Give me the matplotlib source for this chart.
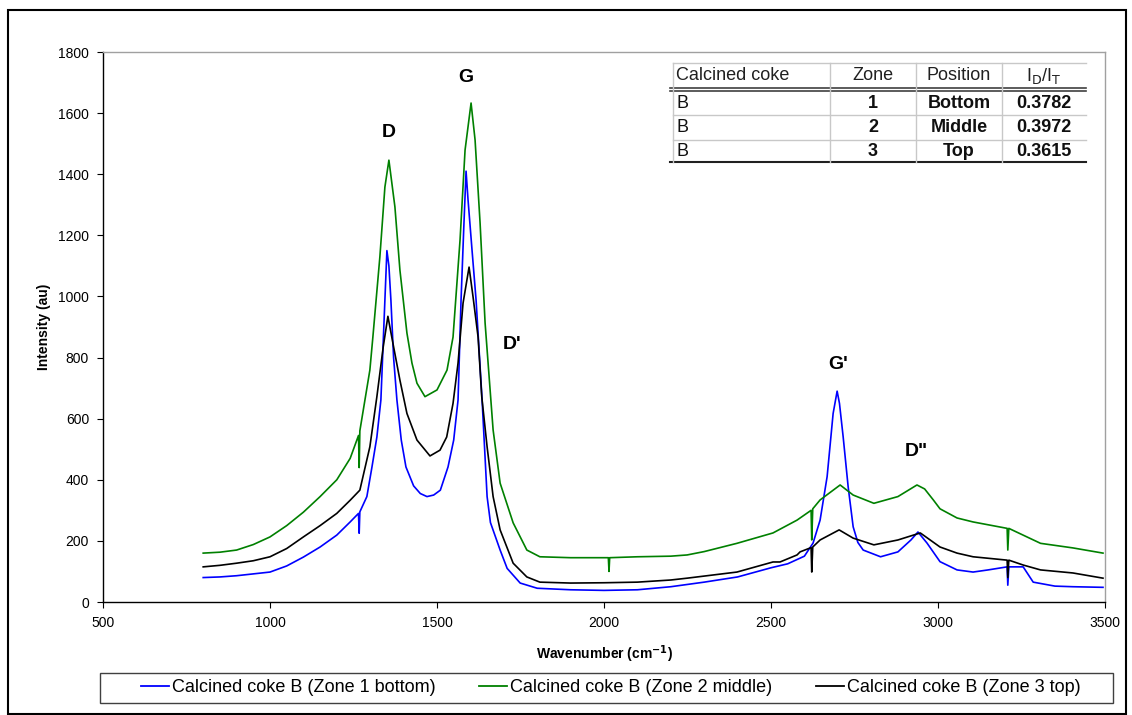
import matplotlib
matplotlib.use("Agg")
import matplotlib.pyplot as plt
from matplotlib.lines import Line2D
from matplotlib.patches import Rectangle

plt.rcParams['font.family'] = ['Liberation Sans', 'DejaVu Sans']

# Raman spectra of calcined coke B, three zones (wavenumber cm-1, intensity au)
zone1_wn = [800, 850, 900, 950, 1000, 1050, 1100, 1150, 1200, 1240, 1265, 1267, 1269,
            1290, 1305, 1320, 1332, 1344, 1350, 1356, 1362, 1370, 1380, 1393, 1407,
            1430, 1450, 1470, 1490, 1510, 1533, 1550, 1563, 1572, 1580, 1587, 1593,
            1605, 1617, 1635, 1650, 1660, 1689, 1710, 1749, 1800, 1900, 2000, 2100,
            2200, 2300, 2400, 2500, 2550, 2600, 2626, 2647, 2668, 2686, 2698, 2705,
            2716, 2731, 2746, 2760, 2776, 2828, 2880, 2919, 2940, 2967, 3006, 3057,
            3105, 3150, 3207, 3209, 3212, 3255, 3285, 3350, 3404, 3494]
zone1_int = [80, 82, 86, 92, 98, 118, 147, 180, 219, 262, 290, 225, 295,
             345, 440, 540, 661, 988, 1150, 1100, 988, 800, 661, 530, 442,
             380, 355, 345, 350, 366, 442, 530, 661, 988, 1220, 1410, 1315,
             1150, 988, 661, 345, 260, 170, 110, 62, 45, 40, 38, 40,
             50, 65, 82, 112, 125, 150, 193, 268, 410, 617, 690, 650,
             541, 377, 246, 195, 170, 148, 164, 203, 229, 193, 132, 105,
             98, 105, 115, 55, 115, 115, 65, 52, 50, 48]

zone2_wn = [800, 850, 900, 950, 1000, 1050, 1100, 1150, 1200, 1240, 1265, 1267, 1269,
            1299, 1308, 1329, 1344, 1356, 1374, 1389, 1410, 1425, 1440, 1464, 1500,
            1530, 1548, 1569, 1584, 1602, 1614, 1629, 1644, 1668, 1689, 1728, 1769,
            1808, 1900, 2013, 2015, 2017, 2100, 2200, 2249, 2300, 2398, 2506, 2578,
            2620, 2622, 2625, 2647, 2707, 2746, 2808, 2880, 2937, 2960, 2986, 3006,
            3057, 3105, 3207, 3209, 3212, 3307, 3404, 3494]
zone2_int = [160, 163, 170, 188, 213, 250, 294, 345, 400, 470, 545, 440, 560,
             759, 867, 1130, 1358, 1446, 1293, 1086, 880, 782, 716, 672, 694,
             759, 867, 1185, 1479, 1633, 1512, 1240, 913, 563, 389, 259, 170,
             148, 145, 145, 100, 145, 148, 150, 154, 165, 192, 226, 268,
             300, 203, 305, 334, 383, 350, 323, 345, 383, 370, 334, 305,
             275, 262, 241, 170, 241, 192, 177, 160]

zone3_wn = [800, 850, 900, 950, 1000, 1050, 1100, 1150, 1200, 1240, 1269, 1299, 1320,
            1339, 1353, 1368, 1389, 1410, 1440, 1479, 1509, 1529, 1548, 1563, 1578,
            1596, 1608, 1623, 1634, 1650, 1668, 1689, 1728, 1769, 1808, 1900, 2000,
            2100, 2200, 2249, 2398, 2506, 2527, 2578, 2587, 2620, 2622, 2625, 2647,
            2704, 2746, 2808, 2880, 2947, 3006, 3057, 3105, 3207, 3209, 3212, 3255,
            3307, 3404, 3494]
zone3_int = [115, 120, 127, 135, 148, 175, 213, 250, 290, 333, 366, 508, 672,
             835, 935, 847, 726, 617, 530, 478, 497, 540, 650, 782, 978,
             1096, 998, 867, 672, 508, 345, 236, 127, 82, 65, 62, 63,
             65, 72, 78, 98, 131, 131, 154, 164, 178, 98, 180, 203,
             236, 209, 187, 203, 226, 180, 160, 148, 137, 80, 137, 121,
             105, 95, 78]

series_labels = ["Calcined coke B (Zone 1 bottom)",
                 "Calcined coke B (Zone 2 middle)",
                 "Calcined coke B (Zone 3 top)"]
series_colors = ["#0000FF", "#008000", "#000000"]

# Band labels and where they sit (wavenumber, intensity)
band_names = ["D", "G", "D'", "G'", 'D"']
band_wn = [1356, 1587, 1725, 2700, 2934]
band_int = [1538, 1715, 844, 776, 494]

# Inset table of I_D/I_T ratios
table_header = ["Calcined coke", "Zone", "Position", r"I$_\mathrm{D}$/I$_\mathrm{T}$"]
table_coke = ["B", "B", "B"]
table_zone = ["1", "2", "3"]
table_position = ["Bottom", "Middle", "Top"]
table_ratio = ["0.3782", "0.3972", "0.3615"]

W, H = 1132, 715
fig = plt.figure(figsize=(W / 100, H / 100), dpi=100)


def fx(px):
    return px / W


def fy(py):
    return 1 - py / H


ax = fig.add_axes([fx(103), fy(602), fx(1105) - fx(103), fy(52) - fy(602)])

for wn, inten, lab, col in zip([zone1_wn, zone2_wn, zone3_wn],
                               [zone1_int, zone2_int, zone3_int],
                               series_labels, series_colors):
    ax.plot(wn, inten, color=col, lw=1.2, label=lab)

ax.set_xlim(500, 3500)
ax.set_ylim(0, 1800)
ax.set_xticks(range(500, 3501, 500))
ax.set_yticks(range(0, 1801, 200))
ax.tick_params(axis='both', direction='out', length=4, width=0.8, labelsize=10,
               colors='black', pad=6)
for side in ['top', 'right']:
    ax.spines[side].set_color('#a0a0a0')
    ax.spines[side].set_linewidth(1.0)
for side in ['left', 'bottom']:
    ax.spines[side].set_color('black')
    ax.spines[side].set_linewidth(1.0)

ax.set_xlabel(r"Wavenumber (cm$^{\mathbf{-1}}$)", fontsize=10, fontweight='bold', labelpad=10)
ax.set_ylabel("Intensity (au)", fontsize=10, fontweight='bold', labelpad=5)

for name, xw, yi in zip(band_names, band_wn, band_int):
    ax.text(xw, yi, name, fontsize=14, fontweight='bold', ha='center', va='center')

# Inset table drawn in figure pixels
grid_col = '#c8c8c8'
col_edges = [673, 830, 916, 1002, 1086]
row_edges = [63, 89, 115, 140, 162]


def hline(y, x0, x1, color, lw):
    fig.add_artist(Line2D([fx(x0), fx(x1)], [fy(y), fy(y)], color=color, lw=lw,
                          transform=fig.transFigure))


def vline(x, y0, y1, color, lw):
    fig.add_artist(Line2D([fx(x), fx(x)], [fy(y0), fy(y1)], color=color, lw=lw,
                          transform=fig.transFigure))


hline(63, 673, 1086, grid_col, 1.0)
hline(115, 673, 1086, grid_col, 1.0)
hline(140, 673, 1086, grid_col, 1.0)
hline(87.5, 670, 1086, '#404040', 1.2)
hline(90.5, 670, 1086, '#404040', 1.2)
hline(162, 670, 1086, '#202020', 1.5)
for x in col_edges[:-1]:
    vline(x, 63, 162, grid_col, 1.0)

tfs = 13
hdr_y = (row_edges[0] + row_edges[1]) / 2
centers = [(col_edges[i] + col_edges[i + 1]) / 2 for i in range(4)]
fig.text(fx(676), fy(hdr_y), table_header[0], fontsize=tfs, ha='left', va='center', color='#202020')
for i in range(1, 4):
    fig.text(fx(centers[i]), fy(hdr_y), table_header[i], fontsize=tfs, ha='center',
             va='center', color='#202020')
row_y = [103, 128, 151]
for r in range(3):
    fig.text(fx(676), fy(row_y[r]), table_coke[r], fontsize=tfs, ha='left', va='center', color='#101010')
    fig.text(fx(centers[1]), fy(row_y[r]), table_zone[r], fontsize=tfs, ha='center',
             va='center', color='#101010', fontweight='bold')
    fig.text(fx(centers[2]), fy(row_y[r]), table_position[r], fontsize=tfs, ha='center',
             va='center', color='#101010', fontweight='bold')
    fig.text(fx(centers[3]), fy(row_y[r]), table_ratio[r], fontsize=tfs, ha='center',
             va='center', color='#101010', fontweight='bold')

# Legend along the bottom, with its own box
handles, labels = ax.get_legend_handles_labels()
leg = fig.legend(handles, labels, ncol=3, loc='center',
                 bbox_to_anchor=(fx(611), fy(688)),
                 borderaxespad=0, fontsize=13, frameon=False,
                 handlelength=1.55, handletextpad=0.17, columnspacing=2.4,
                 borderpad=0.2)
for line in leg.get_lines():
    line.set_linewidth(1.3)
fig.add_artist(Rectangle((fx(100), fy(703)), fx(1113) - fx(100), fy(673) - fy(703),
                         fill=False, edgecolor='#404040', lw=1.0, transform=fig.transFigure))

# Outer border
fig.add_artist(Rectangle((fx(8), fy(714)), fx(1126) - fx(8), fy(10) - fy(714),
                         fill=False, edgecolor='black', lw=1.5, transform=fig.transFigure))

fig.savefig("out.png", dpi=100)
